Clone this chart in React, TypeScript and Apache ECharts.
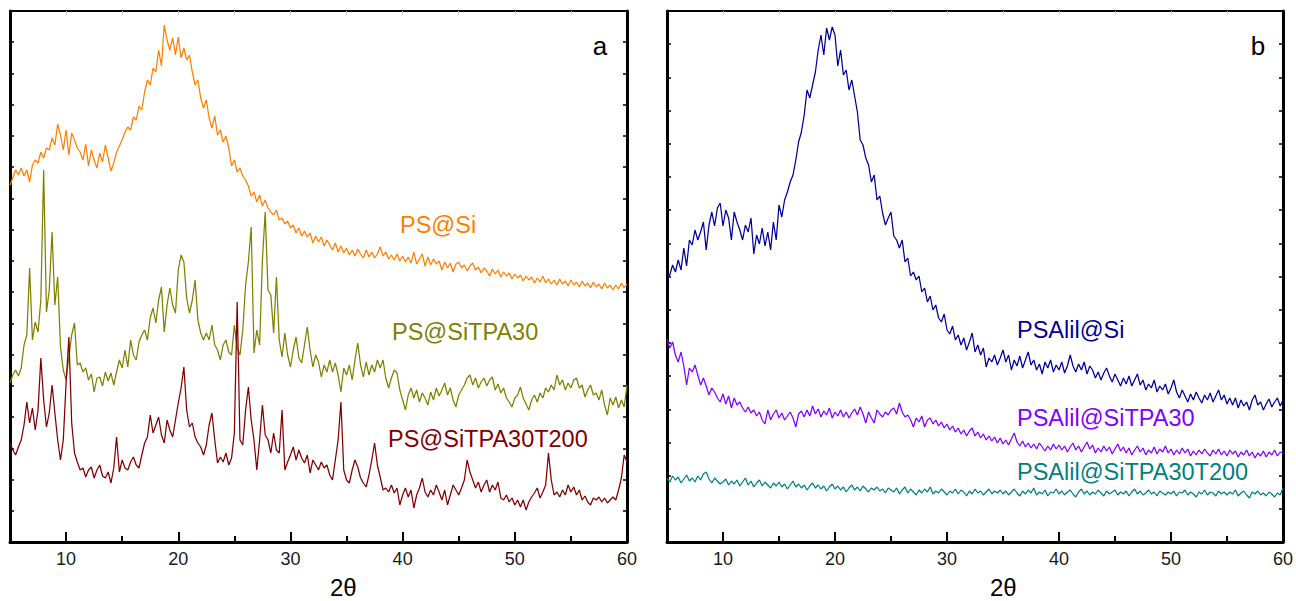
import React, { useEffect, useRef } from "react";
import * as echarts from "echarts";

// sampling grid of the diffractograms (2θ, degrees)
const THETA_START = 5;
const THETA_STEP = 0.25;

// ---- panel a (intensity, a.u.) ----
const PS_SI = [
  357, 364, 372, 367, 374, 366, 372, 360, 377, 382, 379, 390, 384, 394, 392, 404, 397, 418, 407, 392,
  412, 387, 409, 402, 394, 390, 382, 398, 376, 392, 382, 374, 389, 380, 397, 384, 371, 379, 390, 396,
  402, 410, 415, 412, 425, 422, 436, 432, 450, 462, 457, 474, 470, 492, 476, 517, 502, 492, 504, 487,
  505, 484, 494, 482, 487, 470, 457, 462, 444, 434, 442, 424, 414, 426, 407, 412, 400, 406, 394, 376,
  382, 370, 374, 366, 362, 356, 346, 350, 340, 347, 336, 342, 334, 330, 327, 332, 322, 324, 318, 321,
  314, 317, 309, 314, 306, 311, 305, 309, 299, 306, 300, 305, 296, 302, 297, 292, 299, 290, 296, 289,
  294, 287, 292, 286, 293, 288, 284, 292, 285, 290, 284, 288, 295, 286, 290, 283, 287, 282, 288, 281,
  286, 280, 285, 279, 290, 278, 283, 288, 276, 285, 277, 283, 278, 281, 272, 280, 274, 279, 270, 278,
  280, 274, 277, 271, 276, 279, 272, 275, 269, 274, 271, 266, 273, 268, 272, 265, 270, 266, 269, 263,
  268, 264, 267, 261, 266, 262, 265, 259, 264, 260, 266, 259, 263, 258, 262, 257, 263, 258, 261, 256,
  262, 257, 260, 255, 261, 256, 259, 254, 260, 255, 258, 253, 259, 254, 257, 252, 257, 253, 259, 254,
  258,
];

const PS_SITPA30 = [
  159, 167, 172, 166, 174, 197, 207, 274, 202, 220, 210, 242, 372, 230, 252, 310, 237, 265, 195, 172,
  162, 185, 207, 219, 177, 179, 170, 174, 162, 168, 150, 164, 165, 156, 170, 161, 169, 157, 170, 182,
  174, 192, 175, 202, 187, 182, 200, 207, 212, 202, 224, 234, 219, 242, 255, 210, 237, 254, 237, 229,
  272, 287, 280, 244, 229, 242, 262, 222, 209, 202, 209, 202, 217, 197, 192, 182, 197, 202, 190, 187,
  217, 194, 187, 212, 257, 280, 315, 189, 212, 197, 282, 330, 252, 247, 209, 265, 202, 185, 209, 187,
  175, 192, 205, 184, 179, 197, 215, 192, 175, 187, 180, 165, 177, 170, 182, 170, 179, 167, 150, 174,
  167, 177, 162, 182, 199, 177, 165, 180, 167, 177, 170, 182, 174, 182, 164, 154, 164, 172, 169, 152,
  142, 132, 147, 154, 144, 152, 140, 149, 144, 137, 150, 142, 154, 146, 152, 159, 147, 154, 142, 135,
  147, 152, 157, 164, 167, 157, 164, 154, 160, 164, 156, 162, 165, 152, 158, 149, 154, 144, 140, 135,
  144, 147, 155, 144, 138, 132, 142, 147, 140, 149, 144, 154, 150, 157, 152, 167, 157, 162, 152, 159,
  154, 162, 164, 154, 157, 145, 152, 157, 147, 149, 142, 152, 137, 127, 144, 137, 145, 134, 142, 135,
  157,
];

const PS_SITPA30T200 = [
  99, 92, 87, 95, 102, 117, 140, 119, 134, 112, 132, 184, 142, 115, 129, 157, 129, 102, 82, 102,
  159, 205, 119, 89, 80, 72, 74, 65, 72, 75, 64, 72, 77, 66, 64, 70, 59, 74, 105, 70,
  82, 74, 72, 80, 85, 77, 74, 87, 99, 105, 127, 109, 117, 125, 107, 99, 122, 112, 105, 122,
  139, 154, 175, 132, 115, 119, 105, 99, 95, 87, 97, 117, 129, 102, 79, 85, 80, 89, 77, 84,
  109, 240, 102, 97, 132, 155, 122, 102, 72, 102, 137, 107, 102, 89, 109, 92, 89, 132, 72, 80,
  87, 95, 82, 92, 84, 79, 87, 69, 82, 77, 72, 80, 74, 77, 67, 62, 82, 102, 140, 72,
  62, 59, 72, 82, 75, 64, 59, 55, 67, 82, 99, 77, 65, 52, 54, 50, 57, 49, 54, 37,
  47, 54, 45, 52, 34, 47, 54, 64, 50, 45, 52, 47, 57, 50, 42, 52, 37, 47, 57, 52,
  47, 54, 62, 82, 70, 62, 54, 60, 50, 57, 62, 50, 57, 52, 60, 44, 42, 47, 40, 44,
  37, 42, 35, 42, 32, 40, 45, 49, 54, 44, 50, 57, 89, 62, 47, 50, 45, 52, 47, 57,
  50, 55, 47, 52, 42, 46, 40, 37, 44, 42, 45, 40, 44, 39, 42, 45, 42, 52, 64, 87,
  80,
];

// ---- panel b (intensity, a.u.) ----
const PSALIL_SI = [
  265, 267, 277, 270, 282, 272, 294, 276, 302, 297, 312, 302, 310, 320, 292, 317, 330, 316, 334, 339,
  316, 332, 324, 302, 330, 320, 312, 302, 317, 310, 324, 288, 307, 298, 314, 296, 310, 292, 320, 302,
  337, 325, 342, 350, 360, 367, 382, 400, 410, 427, 452, 444, 457, 470, 492, 507, 487, 514, 502, 515,
  507, 476, 492, 467, 472, 452, 462, 446, 430, 402, 397, 384, 377, 360, 367, 342, 346, 329, 317, 324,
  330, 306, 302, 294, 302, 280, 284, 266, 270, 262, 266, 250, 254, 240, 246, 232, 237, 224, 220, 228,
  212, 208, 216, 202, 207, 197, 204, 192, 200, 209, 190, 197, 187, 194, 175, 184, 180, 187, 177, 184,
  192, 180, 187, 172, 182, 176, 186, 174, 182, 190, 177, 182, 172, 178, 168, 180, 174, 182, 170, 177,
  172, 180, 169, 176, 187, 176, 170, 178, 172, 180, 168, 176, 172, 164, 170, 162, 169, 174, 166, 160,
  168, 162, 156, 164, 158, 166, 156, 162, 168, 157, 162, 152, 158, 154, 162, 150, 156, 152, 158, 148,
  154, 162, 150, 144, 152, 146, 140, 148, 142, 150, 144, 139, 147, 142, 149, 140, 146, 152, 142, 147,
  138, 144, 137, 144, 134, 142, 136, 140, 132, 142, 147, 137, 140, 132, 138, 143, 135, 140, 144, 136,
  142,
];

const PSALIL_SITPA30 = [
  202, 194, 200, 187, 180, 190, 176, 157, 174, 170, 177, 167, 157, 164, 156, 147, 154, 150, 144, 140,
  148, 138, 146, 134, 144, 137, 140, 134, 130, 135, 129, 132, 126, 130, 122, 118, 132, 122, 128, 132,
  124, 129, 122, 126, 130, 124, 115, 128, 131, 125, 132, 126, 136, 128, 133, 125, 131, 127, 134, 124,
  130, 126, 132, 125, 130, 124, 129, 133, 127, 135, 128, 119, 130, 124, 119, 132, 128, 125, 130, 127,
  132, 134, 128, 139, 130, 125, 127, 122, 115, 124, 120, 126, 115, 122, 124, 118, 122, 116, 120, 114,
  118, 112, 116, 110, 114, 108, 112, 106, 111, 114, 106, 110, 104, 108, 102, 106, 101, 105, 99, 104,
  98, 102, 97, 103, 109, 100, 96, 101, 95, 99, 94, 98, 93, 99, 95, 91, 96, 92, 98, 93,
  97, 92, 96, 90, 95, 99, 92, 96, 90, 95, 100, 93, 97, 89, 94, 90, 96, 91, 95, 88,
  93, 98, 91, 95, 89, 94, 87, 92, 96, 90, 94, 87, 92, 89, 95, 88, 93, 90, 96, 89,
  93, 87, 92, 88, 94, 89, 93, 86, 91, 87, 92, 88, 93, 89, 86, 92, 88, 93, 87, 91,
  86, 92, 88, 91, 85, 90, 87, 92, 86, 90, 84, 89, 86, 91, 85, 90, 87, 92, 86, 90,
  89,
];

const PSALIL_SITPA30T200 = [
  64, 60, 66, 62, 65, 59, 63, 67, 61, 64, 60, 66, 62, 68, 70, 63, 59, 64, 61, 58,
  60, 63, 57, 61, 58, 62, 56, 60, 64, 57, 61, 55, 59, 62, 56, 60, 57, 54, 59, 56,
  60, 55, 58, 53, 57, 61, 55, 58, 54, 57, 52, 56, 59, 54, 57, 53, 56, 51, 55, 58,
  53, 56, 52, 55, 50, 54, 57, 52, 55, 51, 56, 53, 50, 54, 52, 55, 51, 53, 49, 54,
  52, 50, 54, 48, 52, 55, 49, 53, 50, 47, 52, 49, 53, 50, 55, 48, 51, 49, 53, 50,
  47, 51, 49, 53, 48, 52, 50, 46, 51, 48, 53, 49, 51, 47, 50, 53, 48, 51, 49, 52,
  48, 51, 47, 50, 53, 49, 46, 51, 48, 52, 49, 54, 47, 50, 48, 52, 46, 50, 49, 53,
  48, 51, 47, 50, 52, 48, 45, 50, 53, 48, 51, 47, 50, 48, 52, 49, 46, 51, 48, 50,
  52, 47, 50, 48, 51, 46, 50, 53, 48, 51, 47, 49, 52, 48, 50, 46, 51, 49, 47, 50,
  48, 51, 46, 50, 49, 52, 47, 50, 48, 45, 50, 48, 52, 47, 50, 49, 46, 51, 48, 50,
  47, 50, 48, 52, 46, 49, 51, 47, 44, 50, 48, 51, 47, 49, 46, 50, 48, 45, 49, 47,
  54,
];

// axis ticks / labels
const X_MAJOR = [10, 20, 30, 40, 50, 60];
const X_MINOR = [15, 25, 35, 45, 55];
const X_TOP = [10, 15, 20, 25, 30, 35, 40, 45, 50, 55];
const Y_MAX = 531;
const Y_DIVS = [17, 16];

const FONT = '"Liberation Sans", Arial, Helvetica, sans-serif';

const toPairs = (vals: number[]) =>
  vals.map((v, i) => [THETA_START + i * THETA_STEP, v]);

export default function App() {
  const ref = useRef<HTMLDivElement>(null);

  useEffect(() => {
    if (!ref.current) return;
    const chart = echarts.init(ref.current, null, { renderer: "svg" });

    const grids = [
      { left: 10, top: 11, width: 617, height: 531 },
      { left: 667, top: 11, width: 618, height: 531 },
    ];

    const xAxis: any[] = [];
    const yAxis: any[] = [];
    grids.forEach((_, gi) => {
      xAxis.push({
        gridIndex: gi,
        type: "value",
        position: "bottom",
        min: 5,
        max: 60,
        axisLine: { show: true, onZero: false, lineStyle: { color: "#000", width: 3 } },
        axisTick: { show: true, inside: true, length: 10, customValues: X_MAJOR, lineStyle: { color: "#000", width: 2 } },
        axisLabel: { show: true, customValues: X_MAJOR, fontSize: 18, color: "#1a1a1a", margin: 8, fontFamily: FONT },
        splitLine: { show: false },
      });
      xAxis.push({
        gridIndex: gi,
        type: "value",
        position: "bottom",
        min: 5,
        max: 60,
        axisLine: { show: false },
        axisTick: { show: true, inside: true, length: 6, customValues: X_MINOR, lineStyle: { color: "#000", width: 2 } },
        axisLabel: { show: false },
        splitLine: { show: false },
      });
      xAxis.push({
        gridIndex: gi,
        type: "value",
        position: "top",
        min: 5,
        max: 60,
        axisLine: { show: true, onZero: false, lineStyle: { color: "#000", width: 2 } },
        axisTick: { show: true, inside: true, length: 4, customValues: X_TOP, lineStyle: { color: "#cfcfcf", width: 1 } },
        axisLabel: { show: false },
        splitLine: { show: false },
      });
      ["left", "right"].forEach((pos) => {
        yAxis.push({
          gridIndex: gi,
          type: "value",
          position: pos,
          min: 0,
          max: Y_MAX,
          interval: Y_MAX / Y_DIVS[gi],
          axisLine: { show: true, onZero: false, lineStyle: { color: "#000", width: 3 } },
          axisTick: { show: true, inside: true, length: 4, lineStyle: { color: "#000", width: 1.5 } },
          axisLabel: { show: false },
          splitLine: { show: false },
        });
      });
    });

    const mk = (name: string, vals: number[], color: string, gi: number) => ({
      name,
      type: "line",
      xAxisIndex: gi * 3,
      yAxisIndex: gi * 2,
      data: toPairs(vals),
      showSymbol: false,
      symbol: "none",
      lineStyle: { color, width: 1.25 },
      itemStyle: { color },
      z: 3,
    });

    const label = (text: string, x: number, y: number, fill: string, size = 23.5, align = "left") => ({
      type: "text",
      x,
      y,
      z: 10,
      style: { text, fill, font: `${size}px ${FONT}`, align, verticalAlign: "middle" },
    });

    chart.setOption({
      animation: false,
      backgroundColor: "#ffffff",
      textStyle: { fontFamily: FONT },
      grid: grids,
      xAxis,
      yAxis,
      series: [
        mk("PS@Si", PS_SI, "#FF8000", 0),
        mk("PS@SiTPA30", PS_SITPA30, "#808000", 0),
        mk("PS@SiTPA30T200", PS_SITPA30T200, "#800000", 0),
        mk("PSAlil@Si", PSALIL_SI, "#000099", 1),
        mk("PSAlil@SiTPA30", PSALIL_SITPA30, "#8000FF", 1),
        mk("PSAlil@SiTPA30T200", PSALIL_SITPA30T200, "#008080", 1),
      ],
      graphic: [
        label("PS@Si", 400, 225, "#FF8000"),
        label("PS@SiTPA30", 392, 332, "#808000"),
        label("PS@SiTPA30T200", 388, 439, "#800000"),
        label("PSAlil@Si", 1017, 330, "#000099"),
        label("PSAlil@SiTPA30", 1017, 418, "#8000FF"),
        label("PSAlil@SiTPA30T200", 1017, 472, "#008080"),
        label("a", 600, 46, "#000", 26, "center"),
        label("b", 1258, 46, "#000", 26, "center"),
        label("2θ", 330, 587, "#000", 24),
        label("2θ", 990, 587, "#000", 24),
      ],
    });

    return () => chart.dispose();
  }, []);

  return (
    <div
      ref={ref}
      style={{ position: "absolute", left: 0, top: 0, width: 1296, height: 601, background: "#fff" }}
    />
  );
}
